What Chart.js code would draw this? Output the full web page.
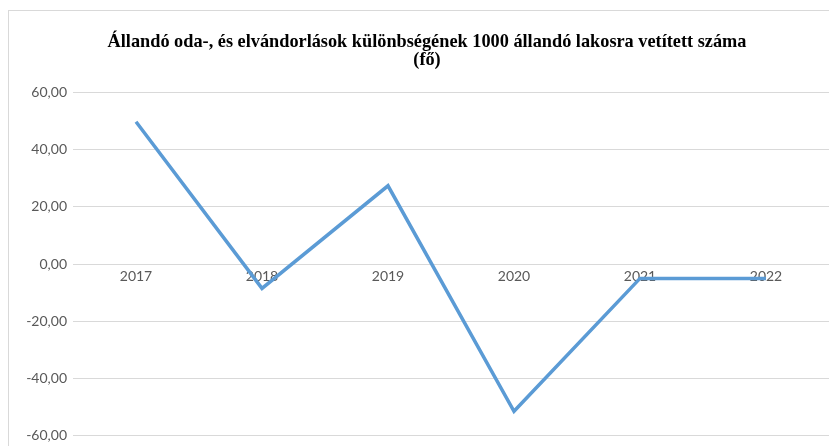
<!DOCTYPE html>
<html>
<head>
<meta charset="utf-8">
<script src="https://cdn.jsdelivr.net/npm/chart.js@4/dist/chart.umd.min.js"></script>
<style>
  html, body { margin: 0; padding: 0; background: #fff; overflow: hidden; }
  #wrap { position: relative; width: 829px; height: 446px; overflow: hidden; }
  #frame { position: absolute; left: 8px; top: 10px; right: -10px; bottom: -10px; border-left: 1px solid #d9d9d9; border-top: 1px solid #d9d9d9; }
  canvas { position: absolute; left: 0; top: 0; }
</style>
</head>
<body>
<div id="wrap">
  <div id="frame"></div>
  <canvas id="chart" width="829" height="450"></canvas>
</div>
<script>
// ─── DATA ────────────────────────────────────────────────────────────────────
const years = ['2017', '2018', '2019', '2020', '2021', '2022'];
const netMigration = [49.8, -8.5, 27.4, -51.5, -5.0, -5.0];
const titleLines = ['Állandó oda-, és elvándorlások különbségének 1000 állandó lakosra vetített száma', '(fő)'];
const yMin = -60, yMax = 60, yStep = 20;

function fmt(v) {
  return v.toFixed(2).replace('.', ',');
}

const ctx = document.getElementById('chart').getContext('2d');
new Chart(ctx, {
  type: 'line',
  data: {
    labels: years,
    datasets: [{
      label: 'Különbség',
      data: netMigration,
      borderColor: '#5b9bd5',
      borderWidth: 3.5,
      pointRadius: 0,
      tension: 0,
      fill: false
    }]
  },
  options: {
    responsive: false,
    animation: false,
    layout: { padding: { left: 25, right: 0, top: 33, bottom: 5 } },
    plugins: {
      legend: { display: false },
      tooltip: { enabled: false },
      title: {
        display: true,
        text: titleLines,
        color: '#000',
        font: { family: '"Liberation Serif", "Times New Roman", serif', size: 18.3, weight: 'bold', lineHeight: 1.0 },
        padding: { top: 0, bottom: 23 }
      }
    },
    scales: {
      x: {
        position: { y: 0 },
        offset: true,
        grid: { display: false, drawTicks: false },
        border: { display: false },
        ticks: { color: '#595959', font: { family: 'Lato', size: 14 }, padding: 4, maxRotation: 0 }
      },
      y: {
        min: yMin,
        max: yMax,
        grid: { color: '#d9d9d9', lineWidth: 1, drawTicks: false },
        border: { display: false },
        ticks: { stepSize: yStep, color: '#595959', font: { family: 'Lato', size: 14 }, padding: 6, callback: v => fmt(v) },
        afterFit: s => { s.width = 48; }
      }
    }
  }
});
</script>
</body>
</html>
